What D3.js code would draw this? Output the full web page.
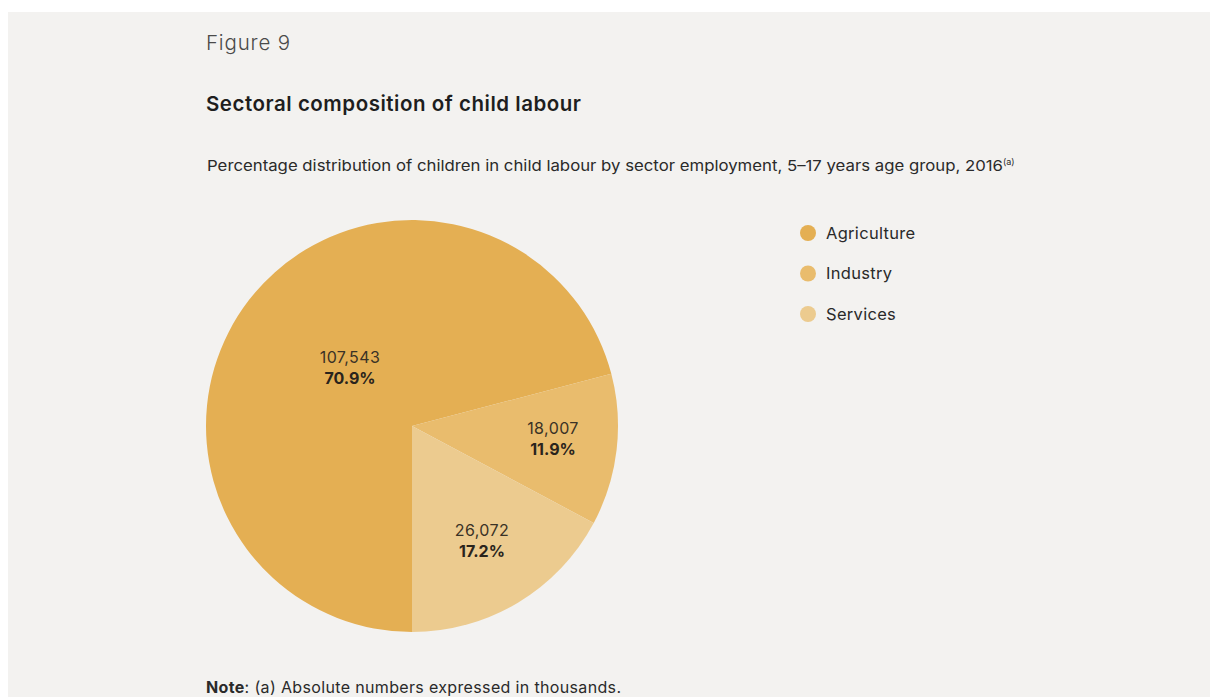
<!DOCTYPE html>
<html>
<head>
<meta charset="utf-8">
<script src="https://cdn.jsdelivr.net/npm/d3@7"></script>
<style>
  body { margin: 0; background: #ffffff; }
  svg { display: block; }
</style>
</head>
<body>
<div id="chart"></div>
<script>
// data
var sectors = ["Agriculture", "Industry", "Services"];
var children = [107543, 18007, 26072];      // thousands
var shares = [70.9, 11.9, 17.2];             // percent
var colours = ["#e4af53", "#e9bc6d", "#eccb8f"];

function init() {
    var w = 1210;
    var h = 697;

    var svg = d3.select("#chart")
                .append("svg")
                .attr("width", w)
                .attr("height", h);

    // grey panel
    svg.append("rect")
       .attr("x", 8).attr("y", 12)
       .attr("width", w - 8).attr("height", h - 12)
       .attr("fill", "#f3f2f0");

    var font = "Inter, 'Open Sans', sans-serif";

    svg.append("text")
       .attr("x", 206).attr("y", 50)
       .attr("font-family", font)
       .attr("font-size", "20.5px")
       .attr("font-weight", 300)
       .attr("fill", "#4a4a4a")
       .attr("textLength", 84)
       .text("Figure 9");

    svg.append("text")
       .attr("x", 206).attr("y", 111)
       .attr("font-family", font)
       .attr("font-size", "20.5px")
       .attr("font-weight", 600)
       .attr("fill", "#1e1e1e")
       .attr("textLength", 375)
       .text("Sectoral composition of child labour");

    var sub = svg.append("text")
       .attr("x", 207).attr("y", 171)
       .attr("font-family", font)
       .attr("font-size", "15px")
       .attr("fill", "#2a2a2a");
    sub.append("tspan")
       .attr("textLength", 796)
       .attr("lengthAdjust", "spacingAndGlyphs")
       .text("Percentage distribution of children in child labour by sector employment, 5–17 years age group, 2016");
    sub.append("tspan")
       .attr("font-size", "9px")
       .attr("dy", -6)
       .text("(a)");

    // pie
    var cx = 412, cy = 426, r = 206;

    var pie = d3.pie()
                .sort(null)
                .startAngle(Math.PI)
                .endAngle(3 * Math.PI)
                .value(function(d) { return d; });

    var arc = d3.arc().innerRadius(0).outerRadius(r);

    var g = svg.append("g")
               .attr("transform", "translate(" + cx + "," + cy + ")");

    var arcs = g.selectAll("g.arc")
                .data(pie(children))
                .enter()
                .append("g")
                .attr("class", "arc");

    arcs.append("path")
        .attr("fill", function(d, i) { return colours[i]; })
        .attr("d", arc);

    // label offsets from pie centre
    var labelPos = [[-62, -63], [141, 8], [70, 110]];

    var fmt = d3.format(",");

    arcs.append("text")
        .attr("x", function(d, i) { return labelPos[i][0]; })
        .attr("y", function(d, i) { return labelPos[i][1]; })
        .attr("text-anchor", "middle")
        .attr("font-family", font)
        .attr("font-size", "16px")
        .attr("letter-spacing", "0.4px")
        .attr("fill", "#3a3226")
        .text(function(d, i) { return fmt(children[i]); });

    arcs.append("text")
        .attr("x", function(d, i) { return labelPos[i][0]; })
        .attr("y", function(d, i) { return labelPos[i][1] + 21; })
        .attr("text-anchor", "middle")
        .attr("font-family", font)
        .attr("font-size", "16px")
        .attr("font-weight", "bold")
        .attr("fill", "#2a241c")
        .text(function(d, i) { return shares[i].toFixed(1) + "%"; });

    // legend
    var legend = svg.selectAll("g.legend")
                    .data(sectors)
                    .enter()
                    .append("g")
                    .attr("class", "legend")
                    .attr("transform", function(d, i) {
                        return "translate(808," + (233 + i * 40.5) + ")";
                    });

    legend.append("circle")
          .attr("r", 8)
          .attr("fill", function(d, i) { return colours[i]; });

    legend.append("text")
          .attr("x", 18)
          .attr("y", 5.5)
          .attr("font-family", font)
          .attr("font-size", "16.5px")
          .attr("letter-spacing", "0.3px")
          .attr("fill", "#2a2a2a")
          .text(function(d) { return d; });

    var note = svg.append("text")
       .attr("x", 206).attr("y", 693)
       .attr("font-family", font)
       .attr("font-size", "16px")
       .attr("fill", "#2a2a2a")
       .attr("textLength", 415);
    note.append("tspan").attr("font-weight", "bold").text("Note");
    note.append("tspan").text(": (a) Absolute numbers expressed in thousands.");
}

window.onload = init;
</script>
</body>
</html>
